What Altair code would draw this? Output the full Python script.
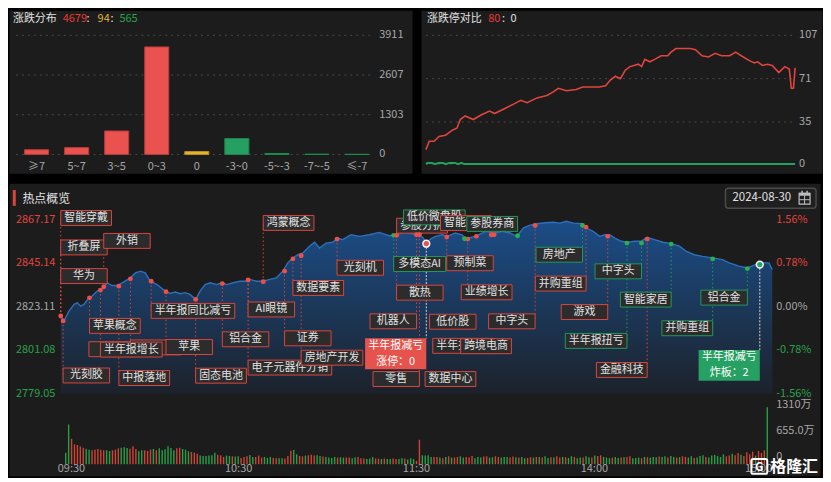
import altair as alt
import pandas as pd

FONT = "Noto Sans CJK SC"
RED_T = "#e0443c"
GREEN_T = "#28a24a"
GREY = "#a6a6a6"
TXT = "#e2e2e2"
PANEL = "#1c1c1c"
BOX = "#2c2c2c"
RED_B = "#d9463f"
GREEN_B = "#23985a"

# ================= 涨跌分布 =================
dist_cats = ["≥7", "5~7", "3~5", "0~3", "0", "-3~0", "-5~-3", "-7~-5", "≤-7"]
dist_vals = [154, 225, 770, 3530, 94, 521, 32, 9, 3]
dist_kind = ["up", "up", "up", "up", "flat", "down", "down", "down", "down"]
dist_ticks = [0, 1303, 2607, 3911]
dist_summary = ["4679", "94", "565"]

# ================= 涨跌停对比 =================
lim_up_min = [0, 2.1, 5.3, 8.5, 12.7, 17, 20.2, 22.3, 25.5, 30.8, 36.1, 41.4, 44.6, 51, 57.3,
              61.6, 65.8, 72.2, 78.6, 82.8, 86, 91.3, 97.7, 101.9, 108.3, 112.6, 116.8, 120,
              123.2, 126.4, 129.6, 132.7, 138.1, 140.2, 142.3, 145.5, 148.7, 152.9, 157.2,
              159.3, 162.5, 167.8, 172, 175.2, 179.5, 183.7, 188, 192.2, 197.5, 201.3, 205,
              210.3, 213.5, 215.6, 218.8, 221.9, 225.1, 229.4, 233.2, 236.2, 237.5, 238.9, 240]
lim_up_val = [12, 19, 19, 23, 24, 28, 30, 37, 40, 37, 41, 44, 42, 46, 50,
              53, 51, 55, 57, 60, 63, 61, 62, 64, 64, 64, 65, 70,
              73, 71, 78, 81, 83, 81, 87, 85, 87, 90, 90,
              93, 96, 96, 96, 95, 90, 89, 92, 90, 90, 93, 90,
              86, 84, 85, 82, 83, 82, 76, 81, 79, 63, 63, 80]
lim_dn_min = [0, 1, 4, 6, 8, 11, 13, 15, 19, 21, 23, 25, 240]
lim_dn_val = [0, 1, 1, 0, 1, 1, 0, 1, 1, 0, 1, 0, 0]
lim_ticks = [0, 35, 71, 107]
lim_summary = ["80", "0"]

# ================= 热点概览 (指数) =================
idx_min = [0, 1.1, 2.8, 4.5, 5.6, 6.7, 7.8, 9.5, 10.6, 12.3, 14.0, 15.7, 17.3, 19.0, 20.7,
           23.5, 25.2, 26.9, 28.5, 30.2, 32.5, 35.2, 36.9, 38.6, 40.3, 42.0, 43.6, 45.5, 47.0,
           48.7, 50.4, 52.6, 54.3, 56.0, 58.2, 60.4, 62.1, 63.8, 66.0, 68.2, 70.5, 72.7, 74.9,
           76.6, 78.3, 80.0, 81.7, 83.9, 85.6, 87.3, 89.5, 91.7, 93.4, 95.1, 97.9, 100.7, 104.1,
           107.4, 110.8, 113.0, 115.8, 118.6, 120.3, 122.0, 123.3, 124.8, 126.4, 128.7, 130.3,
           133.1, 135.4, 136.5, 138.2, 139.9, 143.2, 146.6, 148.8, 151.6, 153.8, 156.1, 158.3,
           160.6, 163.4, 166.2, 168.4, 170.6, 172.9, 176.0, 177.3, 179.6, 181.8, 183.5, 185.2,
           186.9, 189.1, 191.3, 193.6, 195.8, 197.8, 199.7, 203.1, 205.9, 208.7, 210.9, 213.7,
           216.5, 219.9, 223.2, 225.5, 228.8, 231.6, 234.4, 236.6, 238.9, 240]
idx_val = [2818.5, 2816.0, 2821.0, 2824.4, 2825.2, 2823.5, 2824.4, 2827.7, 2828.6, 2831.1, 2832.3,
           2835.3, 2833.9, 2833.9, 2835.3, 2837.8, 2840.3, 2841.2, 2840.3, 2836.1, 2834.4, 2831.1,
           2829.9, 2830.6, 2829.8, 2830.3, 2829.4, 2826.9, 2831.1, 2834.4, 2835.3, 2834.4, 2835.3,
           2834.4, 2835.3, 2836.1, 2836.1, 2837.0, 2836.1, 2836.1, 2837.0, 2837.8, 2841.2, 2845.4,
           2847.9, 2849.5, 2850.4, 2853.8, 2855.8, 2852.9, 2855.4, 2855.8, 2857.9, 2857.1, 2859.6,
           2858.8, 2859.6, 2860.8, 2859.1, 2859.6, 2860.8, 2860.1, 2859.6, 2858.5, 2855.6, 2857.5,
           2858.8, 2859.6, 2858.8, 2860.5, 2859.6, 2857.6, 2858.2, 2858.8, 2861.3, 2860.5, 2861.3,
           2860.5, 2858.8, 2863.1, 2864.5, 2865.2, 2865.7, 2865.9, 2865.5, 2866.4, 2865.5, 2865.2,
           2863.0, 2861.3, 2858.8, 2859.6, 2859.6, 2857.9, 2856.3, 2855.8, 2856.3, 2856.3, 2858.3,
           2857.4, 2855.8, 2855.1, 2853.8, 2851.3, 2849.5, 2848.7, 2847.9, 2847.0, 2845.4, 2843.7,
           2842.8, 2844.5, 2845.4, 2845.4, 2842.0]
price_ticks = [2867.17, 2845.14, 2823.11, 2801.08, 2779.05]
price_labels = ["2867.17", "2845.14", "2823.11", "2801.08", "2779.05"]
pct_labels = ["1.56%", "0.78%", "0.00%", "-0.78%", "-1.56%"]
tick_kind = ["r", "r", "n", "g", "g"]

# 成交量 (万), one bar per minute
vol_val = [266, 912, 585, 456, 441, 410, 380, 357, 334, 319, 334, 350, 334, 319, 319, 304, 319, 334, 365, 380, 388,
           372, 357, 410, 350, 296, 319, 319, 304, 334, 350, 319, 365, 319, 342, 410, 372, 319, 365, 380, 350,
           334, 296, 281, 266, 243, 198, 190, 190, 198, 205, 266, 220, 205, 167, 198, 190, 182, 175, 182, 144,
           167, 182, 213, 167, 167, 198, 152, 167, 144, 167, 144, 137, 137, 137, 129,
           190, 312, 327, 228, 190,
           182, 198, 205, 220, 198, 205, 190, 175, 167, 152, 144, 167, 152, 160, 152, 152, 152, 137, 160, 167,
           137, 129, 122, 129, 167, 129, 129, 122, 129, 122, 122, 129, 122, 122, 137, 129, 106, 137,
           122, 76, 562,
           205, 198, 205, 167, 167, 167, 152, 137, 167,
           182, 152, 152, 167, 182, 152, 167, 152, 190, 137, 167, 152, 175, 182, 152, 160, 182, 167, 152, 167,
           167, 152, 175, 160, 152, 167, 137, 144, 160, 152, 167, 167, 152, 182, 144, 160, 152, 182, 152, 167,
           160, 144, 182, 167, 137, 152, 152, 182, 160, 152,
           198, 190, 205, 167, 152, 137, 152, 167, 144, 152, 160, 167, 182, 137, 144, 152, 137, 167, 160, 152,
           167, 160, 175, 167, 182, 152, 190, 167, 152, 160, 182, 167, 152, 182, 144, 152, 190, 205, 167, 152,
           198, 213, 190, 167, 228, 182, 198, 243, 205, 258, 220, 190, 274, 228, 289, 198, 304, 258, 319,
           1310]
vol_dir = ("GGRRRRRGGRRRRRGGRRRGG"
           "GRRRGGRRRGRGGGGGGRRG"
           "GGRRRGGGGGGRRRGGRGGR"
           "RRGGRRRGGGRRGGR"
           "RRGGR"
           "RGRRRGGRGGGGRGGRRGGR"
           "RRGGGRRGRGGRRGGRGG"
           "GRR"
           "GGGGRRGRG"
           "RGRRGGRRRGGGRRGGRRGG"
           "GRRGRGGRRGRGRGGRGRRG"
           "RGGRGGRGGR"
           "GRRGGGRGGRGRRGGGRGRG"
           "GGRGGRGGRGRRGGRGGGRG"
           "GGGGGRRGRRGRRRRGRRR"
           "G")
vol_ticks = [1310, 655, 0]
vol_labels = ["1310万", "655.0万", "0"]
time_min = [0, 60, 120, 180, 240]
time_lab = ["09:30", "10:30", "11:30", "14:00", "15:00"]

# ================= 热点标签 =================
lab_text = ["智能穿戴", "折叠屏", "华为", "光刻胶", "外销", "苹果概念", "", "半年报增长", "", "苹果",
            "中报落地", "半年报同比减亏", "固态电池", "铝合金", "AI眼镜", "电子元器件分销", "鸿蒙概念", "证券",
            "数据要素", "房地产开发", "光刻机", "多模态AI", "参股分拆", "低价微盘股", "散热", "机器人", "零售",
            "低价股", "半年报增长", "跨境电商", "数据中心", "预制菜", "业绩增长", "智能电网", "参股券商",
            "中字头", "房地产", "并购重组", "游戏", "中字头", "半年报扭亏", "金融科技", "智能家居", "并购重组", "铝合金"]
lab_kind = ["r", "r", "r", "r", "r", "r", "r", "r", "r", "r",
            "r", "r", "r", "r", "r", "r", "r", "r",
            "r", "r", "r", "g", "r", "g", "r", "r", "r",
            "r", "r", "r", "r", "r", "r", "r", "g",
            "r", "g", "r", "r", "g", "g", "r", "g", "g", "g"]
lab_dot_m = [0, 0, 0, 0.8, 14.5, 9.7, 9.5, 13.4, 23.5, 35.5,
             19.6, 30.5, 45.5, 54.5, 63.2, 63.2, 68.3, 75.5,
             78.3, 81.1, 93.2, 112.3, 113.3, 115.6, 113.3, 120.0, 121.0,
             124.4, 125.5, 134.9, 122.9, 130.2, 137.3, 128.1, 154.1,
             160.0, 176.0, 177.2, 184.5, 195.9, 191.0, 197.8, 205.9, 219.9, 231.6]
lab_dot_p = [2818.5, 2818.5, 2818.5, 2816.0, 2833.3, 2827.7, 2827.7, 2831.6, 2837.3, 2830.8,
             2833.6, 2836.1, 2826.9, 2834.9, 2836.7, 2836.7, 2835.8, 2841.2,
             2847.4, 2849.0, 2857.4, 2859.3, 2859.3, 2859.3, 2859.3, 2859.6, 2859.6,
             2857.0, 2857.0, 2857.4, 2857.0, 2858.5, 2857.4, 2858.0, 2859.1,
             2864.3, 2864.3, 2863.5, 2858.8, 2855.4, 2855.4, 2857.4, 2854.9, 2847.4, 2842.5]

# layout of the label boxes (box side, box centre level, edge override, z-order, dot shown)
lab_side = ["L"] * 25 + ["R", "R"] + ["L"] * 7 + ["R"] * 11
lab_box_p = [2868.1, 2853.2, 2838.7, 2788.4, 2856.5, 2813.5, 2801.7, 2801.5, 2802.6, 2802.8,
             2787.1, 2821.1, 2788.3, 2806.7, 2821.8, 2792.4, 2865.6, 2807.2,
             2832.7, 2797.4, 2842.9, 2844.8, 2864.2, 2868.4, 2830.3, 2815.8, 2786.6,
             2815.6, 2803.4, 2803.2, 2786.6, 2845.2, 2830.5, 2865.5, 2865.1,
             2815.8, 2849.5, 2834.9, 2820.5, 2841.1, 2805.9, 2791.2, 2826.8, 2812.3, 2827.8]
lab_edge_m = [None] * 32 + [135.1] + [None] * 12
lab_tier = [1, 1, 1, 1, 1, 1, 0, 1, 0, 1,
            1, 1, 1, 1, 1, 0, 1, 1,
            1, 1, 1, 1, 0, 1, 1, 1, 1,
            1, 0, 1, 1, 1, 1, 2, 3,
            1, 1, 1, 1, 1, 1, 1, 1, 1, 1]
lab_show = [1, 1, 1, 1, 1, 1, 0, 1, 1, 1,
            1, 1, 1, 1, 1, 1, 1, 1,
            1, 1, 1, 1, 1, 0, 1, 1, 1,
            0, 0, 0, 0, 1, 1, 0, 1,
            1, 1, 1, 1, 1, 1, 1, 1, 1, 1]
lab_w = [None] * 6 + [51] + [None] + [51] + [None] * 36

extra_dot_m = [136.2, 140.2, 145.2, 146.2]
extra_dot_p = [2857.6, 2858.8, 2859.6, 2859.6]
extra_dot_k = ["g", "r", "r", "r"]

big_line1 = ["半年报减亏", "半年报减亏"]
big_line2 = ["涨停：0", "炸板：2"]
big_kind = ["r", "g"]
big_dot_m = [123.3, 235.8]
big_dot_p = [2855.1, 2844.5]
big_box_p = [2799.4, 2793.5]


# ---------------------------------------------------------------------------
def one(**kw):
    return pd.DataFrame({k: [v] for k, v in kw.items()})


def label(s, x, y, color, size=11, align="left", weight="normal"):
    return alt.Chart(one(s=s)).mark_text(
        align=align, baseline="middle", fontSize=size, color=color, font=FONT, fontWeight=weight
    ).encode(x=alt.value(x), y=alt.value(y), text="s:N")


RESOLVE = dict(x="independent", y="independent", color="independent",
               fill="independent", stroke="independent")

# ======================= Panel A: 涨跌分布 =======================
xA = alt.X("cat:N", scale=alt.Scale(domain=dist_cats, range=[7.6, 369.85], paddingInner=0.4,
                                     paddingOuter=0.2), axis=None)
yA = alt.Scale(domain=[0, 3911], range=[145, 25.3])
df_dist = pd.DataFrame({"cat": dist_cats, "v": dist_vals, "kind": dist_kind})
df_tA = pd.DataFrame({"t": dist_ticks, "lab": [str(t) for t in dist_ticks]})

gridA = alt.Chart(df_tA).mark_rule(color="#4a4a4a", strokeDash=[2, 4]).encode(
    y=alt.Y("t:Q", scale=yA, axis=None), x=alt.value(7), x2=alt.value(367))
barsA = alt.Chart(df_dist).mark_bar(strokeWidth=1).encode(
    x=xA, y=alt.Y("v:Q", scale=yA, axis=None),
    fill=alt.Fill("kind:N", scale=alt.Scale(domain=["up", "flat", "down"],
                                             range=["#e9524e", "#e4b62a", "#26a062"]), legend=None),
    stroke=alt.Stroke("kind:N", scale=alt.Scale(domain=["up", "flat", "down"],
                                                 range=["#b83c39", "#b8911d", "#1d8a4f"]), legend=None))
tickA = alt.Chart(df_tA).mark_text(align="left", baseline="middle", fontSize=11, color=GREY, font=FONT).encode(
    y=alt.Y("t:Q", scale=yA, axis=None), x=alt.value(372), text="lab:N")
catA = alt.Chart(df_dist).mark_text(baseline="middle", fontSize=11, color=GREY, font=FONT).encode(
    x=xA, y=alt.value(157.7), text="cat:N")

panelA = alt.layer(
    gridA, barsA, tickA, catA,
    label("涨跌分布", 4, 9, TXT),
    label(dist_summary[0], 54, 9, "#ea3a33"),
    label(":", 79.5, 9, TXT, align="center"),
    label(dist_summary[1], 89, 9, "#e3b42a"),
    label(":", 103.5, 9, TXT, align="center"),
    label(dist_summary[2], 111, 9, "#2aa24e"),
).resolve_scale(**RESOLVE).properties(width=405, height=164)

# ======================= Panel B: 涨跌停对比 =======================
xB = alt.Scale(domain=[0, 240], range=[5, 376])
yB = alt.Scale(domain=[0, 107], range=[154.7, 25.3])
df_tB = pd.DataFrame({"t": lim_ticks, "lab": [str(t) for t in lim_ticks]})
df_up = pd.DataFrame({"m": lim_up_min, "v": lim_up_val})
df_dn = pd.DataFrame({"m": lim_dn_min, "v": lim_dn_val})

gridB = alt.Chart(df_tB).mark_rule(color="#4a4a4a", strokeDash=[2, 4]).encode(
    y=alt.Y("t:Q", scale=yB, axis=None), x=alt.value(5), x2=alt.value(376))
tickB = alt.Chart(df_tB).mark_text(align="left", baseline="middle", fontSize=11, color=GREY, font=FONT).encode(
    y=alt.Y("t:Q", scale=yB, axis=None), x=alt.value(380), text="lab:N")
lineUp = alt.Chart(df_up).mark_line(color="#e0453e", strokeWidth=1.6).encode(
    x=alt.X("m:Q", scale=xB, axis=None), y=alt.Y("v:Q", scale=yB, axis=None))
lineDn = alt.Chart(df_dn).mark_line(color="#23a05c", strokeWidth=2).encode(
    x=alt.X("m:Q", scale=xB, axis=None), y=alt.Y("v:Q", scale=yB, axis=None))

panelB = alt.layer(
    gridB, lineDn, lineUp, tickB,
    label("涨跌停对比", 6, 9, TXT),
    label(lim_summary[0], 67.5, 9, "#ea3a33"),
    label(":", 83, 9, TXT, align="center"),
    label(lim_summary[1], 90, 9, TXT),
).resolve_scale(**RESOLVE).properties(width=403, height=164)

# ======================= Panel C: 热点概览 =======================
X0, X1 = 52, 767
xC = alt.Scale(domain=[0, 240], range=[X0, X1])
yC = alt.Scale(domain=[2779.05, 2867.17], range=[211.7, 36.7])
PXM = (X1 - X0) / 240.0
PXP = (211.7 - 36.7) / (2867.17 - 2779.05)
kindStroke = alt.Scale(domain=["r", "g"], range=[RED_B, GREEN_B])


def bw(t, w):
    if w:
        return w
    n = sum(1.0 if ord(c) > 255 else 0.56 for c in t)
    return max(46.7, 11.0 * n + 7.0)


rows = []
hp = 7.5 / PXP
for i, t in enumerate(lab_text):
    edge = lab_edge_m[i] if lab_edge_m[i] is not None else lab_dot_m[i]
    wm = bw(t, lab_w[i]) / PXM
    if lab_side[i] == "L":
        a, b = edge, edge + wm
    else:
        a, b = edge - wm, edge
    rows.append(dict(t=t, kind=lab_kind[i], dm=lab_dot_m[i], dp=lab_dot_p[i], x0=a, x1=b,
                     xc=(a + b) / 2, bp=lab_box_p[i], y0=lab_box_p[i] - hp, y1=lab_box_p[i] + hp,
                     tier=lab_tier[i], show=lab_show[i]))
df_lab = pd.DataFrame(rows)
df_show = df_lab[df_lab.show == 1]
df_dots = pd.concat([
    df_show[["dm", "dp", "kind"]],
    pd.DataFrame({"dm": extra_dot_m, "dp": extra_dot_p, "kind": extra_dot_k}),
]).drop_duplicates()

bh = 15.5 / PXP
bwm = 61.5 / PXM
df_big = pd.DataFrame({
    "kind": big_kind, "dm": big_dot_m, "dp": big_dot_p,
    "x0": [m - bwm for m in big_dot_m], "x1": big_dot_m,
    "y0": [p - bh for p in big_box_p], "y1": [p + bh for p in big_box_p],
})
df_big_txt = pd.DataFrame({
    "t": big_line1 + big_line2,
    "xc": [m - bwm / 2 for m in big_dot_m] * 2,
    "p": [p + 4.0 for p in big_box_p] + [p - 4.0 for p in big_box_p],
})

df_idx = pd.DataFrame({"m": idx_min, "p": idx_val})
area = alt.Chart(df_idx).mark_area(
    color=alt.Gradient(gradient="linear",
                       stops=[alt.GradientStop(color="#1b4d87", offset=0),
                              alt.GradientStop(color="#1c222b", offset=1)],
                       x1=1, x2=1, y1=0, y2=1)
).encode(x=alt.X("m:Q", scale=xC, axis=None), y=alt.Y("p:Q", scale=yC, axis=None),
         y2=alt.datum(2779.05))
line = alt.Chart(df_idx).mark_line(color="#2d6fbb", strokeWidth=1.4).encode(
    x=alt.X("m:Q", scale=xC, axis=None), y=alt.Y("p:Q", scale=yC, axis=None))

lab_rules = alt.Chart(df_show).mark_rule(strokeDash=[1.5, 2.5], strokeWidth=1).encode(
    x=alt.X("dm:Q", scale=xC, axis=None), y=alt.Y("dp:Q", scale=yC, axis=None), y2="bp:Q",
    stroke=alt.Stroke("kind:N", scale=kindStroke, legend=None))
big_rules = alt.Chart(df_big).mark_rule(color="#d6d6d6", strokeDash=[2, 1.5], strokeWidth=1).encode(
    x=alt.X("dm:Q", scale=xC, axis=None), y=alt.Y("dp:Q", scale=yC, axis=None), y2="y1:Q")

tiers = []
for t in range(4):
    d = df_lab[df_lab.tier == t]
    tiers.append(alt.Chart(d).mark_rect(fill=BOX, strokeWidth=1).encode(
        x=alt.X("x0:Q", scale=xC, axis=None), x2="x1:Q",
        y=alt.Y("y0:Q", scale=yC, axis=None), y2="y1:Q",
        stroke=alt.Stroke("kind:N", scale=kindStroke, legend=None)))
    tiers.append(alt.Chart(d).mark_text(baseline="middle", fontSize=11, color=TXT, font=FONT).encode(
        x=alt.X("xc:Q", scale=xC, axis=None), y=alt.Y("bp:Q", scale=yC, axis=None), text="t:N"))

big_rect = alt.Chart(df_big).mark_rect().encode(
    x=alt.X("x0:Q", scale=xC, axis=None), x2="x1:Q",
    y=alt.Y("y0:Q", scale=yC, axis=None), y2="y1:Q",
    fill=alt.Fill("kind:N", scale=alt.Scale(domain=["r", "g"], range=["#e5534c", "#27a063"]), legend=None))
big_txt = alt.Chart(df_big_txt).mark_text(baseline="middle", fontSize=11, color="#ffffff", font=FONT).encode(
    x=alt.X("xc:Q", scale=xC, axis=None), y=alt.Y("p:Q", scale=yC, axis=None), text="t:N")

dots = alt.Chart(df_dots).mark_circle(size=24, opacity=1).encode(
    x=alt.X("dm:Q", scale=xC, axis=None), y=alt.Y("dp:Q", scale=yC, axis=None),
    color=alt.Color("kind:N", scale=alt.Scale(domain=["r", "g"], range=["#ef4f48", "#2bb04d"]), legend=None))
big_dots = alt.Chart(df_big).mark_circle(size=48, opacity=1, stroke="#f2f2f2", strokeWidth=1.5).encode(
    x=alt.X("dm:Q", scale=xC, axis=None), y=alt.Y("dp:Q", scale=yC, axis=None),
    fill=alt.Fill("kind:N", scale=alt.Scale(domain=["r", "g"], range=["#e5534c", "#27a063"]), legend=None))

df_pt = pd.DataFrame({"p": price_ticks, "lab": price_labels, "pct": pct_labels, "k": tick_kind})
tick_col = alt.Color("k:N", scale=alt.Scale(domain=["r", "n", "g"], range=[RED_T, GREY, GREEN_T]), legend=None)
ptick = alt.Chart(df_pt).mark_text(align="left", baseline="middle", fontSize=11, font=FONT).encode(
    x=alt.value(7), y=alt.Y("p:Q", scale=yC, axis=None), text="lab:N", color=tick_col)
pctick = alt.Chart(df_pt).mark_text(align="left", baseline="middle", fontSize=11, font=FONT).encode(
    x=alt.value(771), y=alt.Y("p:Q", scale=yC, axis=None), text="pct:N", color=tick_col)

df_vol = pd.DataFrame({"m": list(range(len(vol_val))), "v": vol_val, "d": list(vol_dir)[:len(vol_val)]})
vol = alt.Chart(df_vol).mark_bar(width=1.4).encode(
    x=alt.X("m:Q", scale=xC, axis=None),
    y=alt.Y("v:Q", scale=alt.Scale(domain=[0, 1310], range=[282.3, 225]), axis=None),
    color=alt.Color("d:N", scale=alt.Scale(domain=["R", "G"], range=["#cf4235", "#28a045"]), legend=None))
df_vt = pd.DataFrame({"v": vol_ticks, "lab": vol_labels})
vtick = alt.Chart(df_vt).mark_text(align="left", baseline="middle", fontSize=11, color=GREY, font=FONT).encode(
    x=alt.value(771), y=alt.Y("v:Q", scale=alt.Scale(domain=[0, 1310], range=[275, 223]), axis=None),
    text="lab:N")

df_time = pd.DataFrame({"m": time_min, "lab": time_lab})
tx = alt.X("m:Q", scale=xC, axis=None)
t_first = alt.Chart(df_time.iloc[:1]).mark_text(align="left", baseline="middle", fontSize=11, color=GREY,
                                                font=FONT, dx=-3).encode(x=tx, y=alt.value(287), text="lab:N")
t_mid = alt.Chart(df_time.iloc[1:4]).mark_text(align="center", baseline="middle", fontSize=11, color=GREY,
                                               font=FONT).encode(x=tx, y=alt.value(287), text="lab:N")
t_last = alt.Chart(df_time.iloc[4:]).mark_text(align="right", baseline="middle", fontSize=11, color=GREY,
                                               font=FONT).encode(x=tx, y=alt.value(287), text="lab:N")

one_row = one(a=0)
title_bar = alt.Chart(one_row).mark_rule(color="#d9463b", strokeWidth=3).encode(
    x=alt.value(5.3), y=alt.value(6.7), y2=alt.value(22.7))
date_box = alt.Chart(one_row).mark_rect(cornerRadius=3, fill="#1f1f1f", stroke="#4a4a4a", strokeWidth=1.5).encode(
    x=alt.value(720), x2=alt.value(811), y=alt.value(5), y2=alt.value(25))
cal_box = alt.Chart(one_row).mark_rect(fillOpacity=0, stroke="#bdbdbd", strokeWidth=1.2).encode(
    x=alt.value(794), x2=alt.value(805), y=alt.value(10), y2=alt.value(21))
cal_top = alt.Chart(one_row).mark_rect(fill="#bdbdbd").encode(
    x=alt.value(794), x2=alt.value(805), y=alt.value(9.5), y2=alt.value(12.5))
cal_v = alt.Chart(one_row).mark_rule(color="#bdbdbd").encode(
    x=alt.value(799.5), y=alt.value(12), y2=alt.value(21))
cal_h = alt.Chart(one_row).mark_rule(color="#bdbdbd").encode(
    x=alt.value(794), x2=alt.value(805), y=alt.value(16.5))
cal_r1 = alt.Chart(one_row).mark_rule(color="#bdbdbd", strokeWidth=1.5).encode(
    x=alt.value(797), y=alt.value(7.5), y2=alt.value(10.5))
cal_r2 = alt.Chart(one_row).mark_rule(color="#bdbdbd", strokeWidth=1.5).encode(
    x=alt.value(802), y=alt.value(7.5), y2=alt.value(10.5))
logo_box = alt.Chart(one_row).mark_rect(fillOpacity=0, stroke="#ffffff", strokeWidth=2, cornerRadius=2).encode(
    x=alt.value(746), x2=alt.value(762), y=alt.value(277), y2=alt.value(292))

panelC = alt.layer(
    area, line, lab_rules, big_rules, *tiers, big_rect, big_txt, dots, big_dots,
    ptick, pctick, vol, vtick, t_first, t_mid, t_last,
    title_bar, label("热点概览", 13.5, 15.5, TXT, size=12),
    date_box, label("2024-08-30", 727, 15, TXT, size=11.5),
    cal_box, cal_top, cal_v, cal_h, cal_r1, cal_r2,
    logo_box, label("G", 754, 285, "#ffffff", size=12, align="center", weight="bold"),
    label("格隆汇", 765, 285, "#ffffff", size=16, weight="bold"),
).resolve_scale(**RESOLVE).properties(width=815, height=294)

top = alt.hconcat(panelA, panelB, spacing=7)
chart = alt.vconcat(top, panelC, spacing=8).properties(
    background="#000000", padding=0
).configure_view(fill=PANEL, stroke="transparent")

chart.save("out.html", embed_options={"renderer": "svg", "actions": False})
